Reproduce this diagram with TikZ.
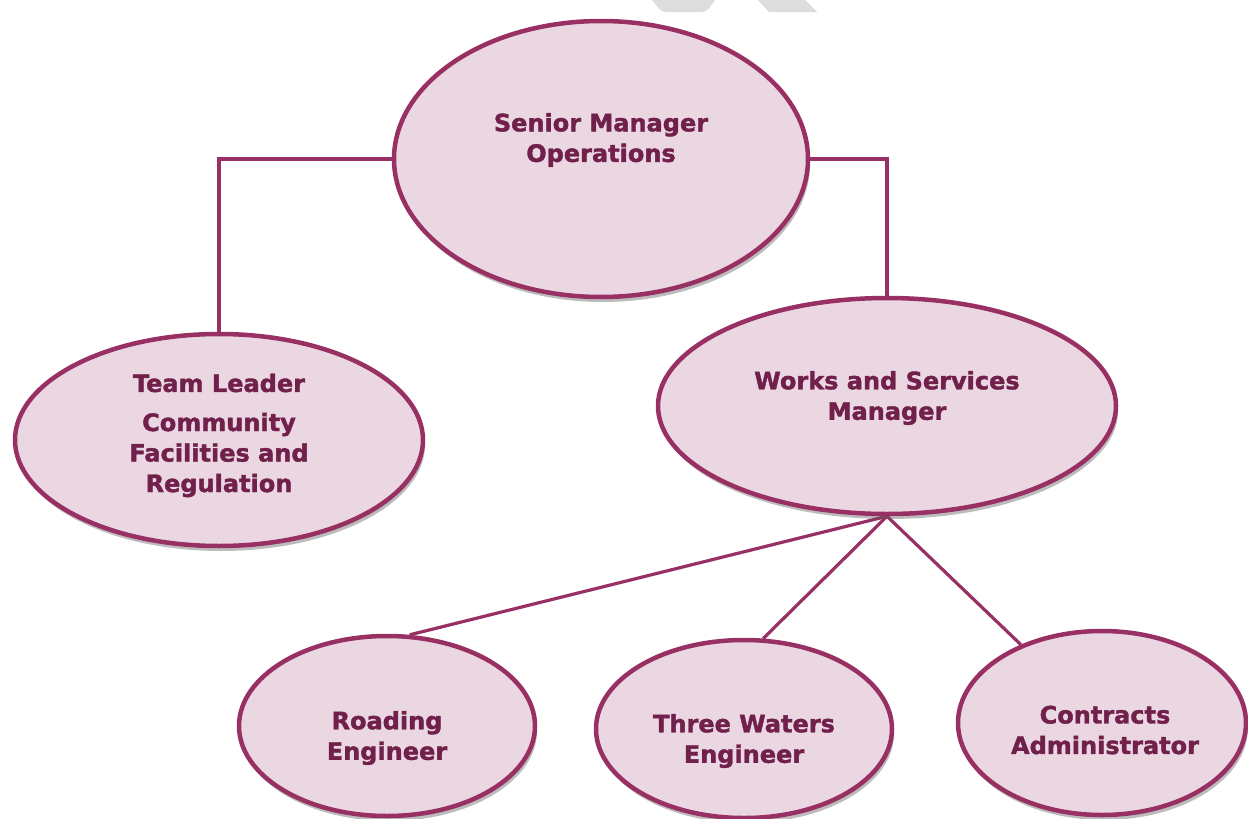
\documentclass[tikz,border=0pt]{standalone}
\usepackage{fontspec}
\setmainfont{DejaVu Sans}
\newfontfamily\heavyfont[FakeBold=1.6]{DejaVu Sans Bold}
\usetikzlibrary{shapes.geometric,shadows,backgrounds}
\definecolor{edgec}{RGB}{152,48,100}
\definecolor{fillc}{RGB}{235,215,226}
\definecolor{textc}{RGB}{112,32,74}
\definecolor{wmark}{RGB}{221,221,221}
\tikzset{
  role/.style={ellipse, draw=edgec, fill=fillc, line width=4.5pt, inner sep=0pt,
    drop shadow={shadow xshift=2pt, shadow yshift=-5pt, opacity=0.4, fill=black!65}},
  label/.style={text=textc, font=\fontsize{24}{30.5}\heavyfont, align=center, inner sep=0pt},
  link/.style={draw=edgec, line width=3.2pt}
}
\begin{document}
\begin{tikzpicture}[x=1pt,y=-1pt]
\useasboundingbox (0,0) rectangle (1248,819);

\node[role, minimum width=414pt, minimum height=276pt] (senior) at (601,159) {};
\node[role, minimum width=408pt, minimum height=212pt] (team) at (219,440) {};
\node[role, minimum width=458pt, minimum height=216pt] (works) at (887,406) {};
\node[role, minimum width=296pt, minimum height=180pt] (road) at (387,726) {};
\node[role, minimum width=296pt, minimum height=178pt] (water) at (744,729) {};
\node[role, minimum width=288pt, minimum height=184pt] (contr) at (1102,723) {};

\node[label] (tsenior) at (601,140) {Senior Manager\\Operations};
\node[label] (tteam1) at (219,383) {Team Leader};
\node[label] (tteam2) at (219,455) {Community\\Facilities and\\Regulation};
\node[label] (tworks) at (887,398) {Works and Services\\Manager};
\node[label] (troad) at (387,738) {Roading\\Engineer};
\node[label] (twater) at (744,741) {Three Waters\\Engineer};
\node[label] (tcontr) at (1105,730) {Contracts\\Administrator};

\begin{scope}[on background layer]
\fill[white] (0,0) rectangle (1248,819);
% faint watermark fragments
\fill[wmark, rounded corners=4pt] (650,-2) -- (662,12) -- (706,12) -- (717,-2) -- cycle;
\fill[wmark] (756,-2) -- (769,12) -- (817,12) -- (803,-2) -- cycle;
\draw[link] (senior.west) -| (team.north);
\draw[link] (senior.east) -| (works.north);
\draw[link] (works.south) -- (road.76);
\draw[link] (works.south) -- (water.78);
\draw[link] (works.south) -- (contr.136);
\end{scope}
\end{tikzpicture}
\end{document}
